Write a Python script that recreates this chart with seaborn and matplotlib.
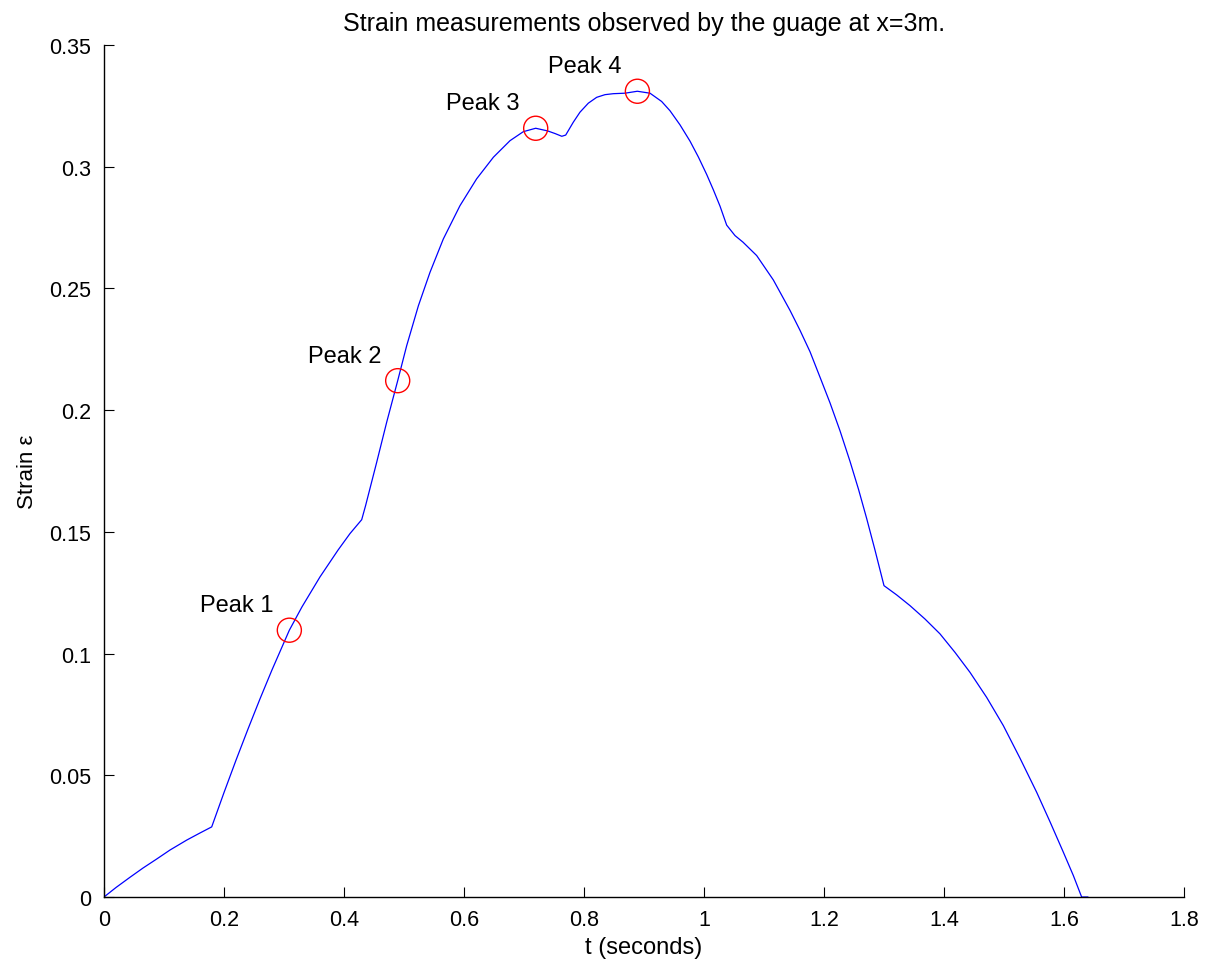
import matplotlib
matplotlib.use("Agg")
import matplotlib.pyplot as plt
import seaborn as sns
import pandas as pd
from matplotlib.ticker import FuncFormatter

# ---- data ----
t_vals = [0.0, 0.02, 0.0433, 0.065, 0.0878, 0.11, 0.138, 0.16, 0.1795,
          0.20, 0.22, 0.24, 0.26, 0.28, 0.3089, 0.33, 0.36, 0.39, 0.41, 0.4295,
          0.436, 0.4545, 0.4711, 0.4895, 0.5045, 0.524, 0.5433, 0.5655, 0.5933,
          0.621, 0.649, 0.6767, 0.6989, 0.7195, 0.7395, 0.752, 0.763, 0.7695,
          0.7822, 0.7933, 0.8072, 0.8211, 0.835, 0.8489, 0.8683, 0.8889, 0.91,
          0.9294, 0.9433, 0.96, 0.9767, 0.9906, 1.0045, 1.0156, 1.0267, 1.0378,
          1.0517, 1.065, 1.0878, 1.1155, 1.1433, 1.16, 1.1767, 1.195, 1.21, 1.2267,
          1.2433, 1.2575, 1.2711, 1.285, 1.30,
          1.3211, 1.3433, 1.3683, 1.3933, 1.4183, 1.4433, 1.4711, 1.4989, 1.5267,
          1.5545, 1.5767, 1.5989, 1.6156, 1.6294, 1.64]
strain_vals = [0.0, 0.0039, 0.0081, 0.0119, 0.0156, 0.0193, 0.0234, 0.0263, 0.0288,
               0.0429, 0.0562, 0.0690, 0.0814, 0.0933, 0.1096, 0.1192, 0.1315, 0.1425, 0.1493, 0.155,
               0.1608, 0.1786, 0.1950, 0.2121, 0.2265, 0.2429, 0.2566, 0.2703, 0.2840,
               0.2950, 0.3039, 0.3107, 0.3144, 0.3158, 0.3147, 0.3136, 0.3125, 0.3130,
               0.3183, 0.3224, 0.3261, 0.3285, 0.3296, 0.3300, 0.3302, 0.3310, 0.3302,
               0.3268, 0.3230, 0.3172, 0.3105, 0.3040, 0.2968, 0.2905, 0.2838, 0.2760,
               0.2717, 0.2690, 0.2635, 0.2535, 0.2410, 0.2328, 0.2240, 0.2125, 0.2030, 0.1915,
               0.1790, 0.1675, 0.1555, 0.1425, 0.1279,
               0.1241, 0.1197, 0.1142, 0.1081, 0.1005, 0.0923, 0.0820, 0.0704, 0.0570,
               0.0430, 0.0309, 0.0184, 0.0088, 0.0, 0.0]
peak_t = [0.3089, 0.4895, 0.7195, 0.889]
peak_strain = [0.1096, 0.2121, 0.3158, 0.3310]
peak_labels = ["Peak 1", "Peak 2", "Peak 3", "Peak 4"]
x_ticks = [0, 0.2, 0.4, 0.6, 0.8, 1.0, 1.2, 1.4, 1.6, 1.8]
y_ticks = [0, 0.05, 0.1, 0.15, 0.2, 0.25, 0.3, 0.35]

sns.set_theme(style="ticks")
plt.rcParams['font.family'] = ['Liberation Sans', 'DejaVu Sans']
plt.rcParams['text.color'] = 'black'
plt.rcParams['axes.labelcolor'] = 'black'
plt.rcParams['xtick.color'] = 'black'
plt.rcParams['ytick.color'] = 'black'

fig = plt.figure(figsize=(12.11, 9.62), dpi=100)
ax = fig.add_axes([104 / 1211, 64 / 962, 1080 / 1211, 852 / 962])

curve = pd.DataFrame({"t": t_vals, "strain": strain_vals})
peaks = pd.DataFrame({"t": peak_t, "strain": peak_strain, "label": peak_labels})

sns.lineplot(data=curve, x="t", y="strain", sort=False, estimator=None,
             color="#0000ff", linewidth=0.9, ax=ax)
sns.scatterplot(data=peaks, x="t", y="strain", marker="o", s=300,
                facecolor="none", edgecolor="#ff0000", linewidth=1.0, ax=ax, zorder=3)

for _, row in peaks.iterrows():
    ax.annotate(row["label"], xy=(row["t"], row["strain"]), xytext=(-11.5, 18),
                textcoords="offset points", ha="right", va="center", fontsize=17,
                color="black")

ax.set_xlim(0, 1.8)
ax.set_ylim(0, 0.35)
ax.set_xticks(x_ticks)
ax.set_yticks(y_ticks)
fmt = FuncFormatter(lambda v, p: "%g" % round(v, 4))
ax.xaxis.set_major_formatter(fmt)
ax.yaxis.set_major_formatter(fmt)
ax.tick_params(direction="in", length=7.5, width=0.8, labelsize=15.5, pad=9,
               colors="black")

for side in ["top", "right"]:
    ax.spines[side].set_visible(False)
for side in ["left", "bottom"]:
    ax.spines[side].set_color("black")
    ax.spines[side].set_linewidth(1.0)

ax.set_xlabel("t (seconds)", fontsize=17, labelpad=4)
ax.set_ylabel("Strain ε", fontsize=16, labelpad=8)
ax.set_title("Strain measurements observed by the guage at x=3m.", fontsize=18,
             pad=11, color="black")

fig.savefig("out.png", dpi=100, facecolor="white")
